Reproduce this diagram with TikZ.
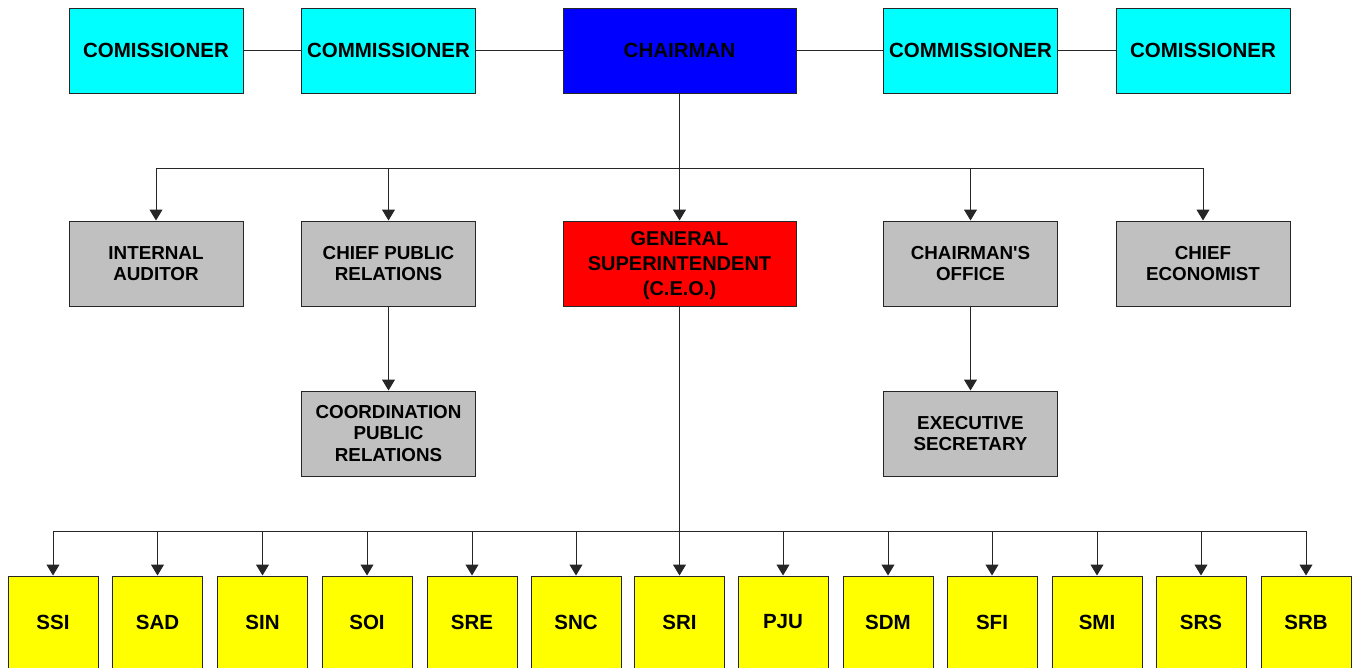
\documentclass[tikz,border=0pt]{standalone}
\usepackage{fontspec}
\setmainfont{Liberation Sans}[Ligatures=TeXOff]
\usetikzlibrary{arrows.meta}
\definecolor{boxcyan}{RGB}{0,255,255}
\definecolor{boxblue}{RGB}{0,0,255}
\definecolor{boxred}{RGB}{255,0,0}
\definecolor{boxgray}{RGB}{192,192,192}
\definecolor{boxyellow}{RGB}{255,255,0}
\begin{document}
\begin{tikzpicture}[x=1pt,y=-1pt,
  box/.style={draw=black!85, line width=1pt, inner sep=0pt, align=center,
    font=\bfseries\fontsize{20.5}{25}\selectfont, anchor=center},
  topbox/.style={box, minimum width=174pt, minimum height=85pt, fill=boxcyan},
  midbox/.style={box, minimum width=174pt, minimum height=85pt, fill=boxgray,
    font=\bfseries\fontsize{18.8}{21.5}\selectfont},
  lowbox/.style={box, minimum width=90pt, minimum height=92pt, fill=boxyellow},
  link/.style={draw=black!85, line width=1pt},
  arr/.style={link, -{Triangle[width=13pt,length=11pt]}}]
\useasboundingbox (0,0) rectangle (1358,667);

% board
\node[topbox] (c1) at (156,50.5) {COMISSIONER};
\node[topbox] (c2) at (388.5,50.5) {COMMISSIONER};
\node[topbox, fill=boxblue, minimum width=233pt] (chair) at (679.5,50.5) {CHAIRMAN};
\node[topbox] (c3) at (970.5,50.5) {COMMISSIONER};
\node[topbox] (c4) at (1203,50.5) {COMISSIONER};
\draw[link] (c1.east) -- (c2.west);
\draw[link] (c2.east) -- (chair.west);
\draw[link] (chair.east) -- (c3.west);
\draw[link] (c3.east) -- (c4.west);

% staff directly under the chairman
\node[midbox] (iaud) at (156,263.5) {INTERNAL\\AUDITOR};
\node[midbox] (cpr) at (388.5,263.5) {CHIEF PUBLIC\\RELATIONS};
\node[box, fill=boxred, minimum width=233pt, minimum height=85pt] (gs) at (679.5,263.5) {};
\node[font=\bfseries\fontsize{20}{25}\selectfont, align=center, inner sep=0pt] (gstext) at ([yshift=-2.5pt]gs.center) {GENERAL\\SUPERINTENDENT\\(C.E.O.)};
\node[midbox] (coff) at (970.5,263.5) {CHAIRMAN'S\\OFFICE};
\node[midbox] (ceco) at (1203,263.5) {CHIEF\\ECONOMIST};

\coordinate (topbus) at (679.5,168);
\draw[arr] (chair.south) -- (gs.north);
\draw[link] (iaud.north |- topbus) -- (ceco.north |- topbus);
\draw[arr] (iaud.north |- topbus) -- (iaud.north);
\draw[arr] (cpr.north |- topbus) -- (cpr.north);
\draw[arr] (coff.north |- topbus) -- (coff.north);
\draw[arr] (ceco.north |- topbus) -- (ceco.north);

% second level staff
\node[midbox] (coord) at (388.5,433.5) {COORDINATION\\PUBLIC\\RELATIONS};
\node[midbox] (exsec) at (970.5,433.5) {EXECUTIVE\\SECRETARY};
\draw[arr] (cpr.south) -- (coord.north);
\draw[arr] (coff.south) -- (exsec.north);

% superintendencies
\node[lowbox] (ssi) at (53,622) {SSI};
\node[lowbox] (sad) at (157.5,622) {SAD};
\node[lowbox] (sin) at (262.5,622) {SIN};
\node[lowbox] (soi) at (367,622) {SOI};
\node[lowbox] (sre) at (472,622) {SRE};
\node[lowbox] (snc) at (576,622) {SNC};
\node[lowbox] (sri) at (679.5,622) {SRI};
\node[lowbox] (pju) at (783,622) {PJU};
\node[lowbox] (sdm) at (888,622) {SDM};
\node[lowbox] (sfi) at (992,622) {SFI};
\node[lowbox] (smi) at (1097,622) {SMI};
\node[lowbox] (srs) at (1201,622) {SRS};
\node[lowbox] (srb) at (1306,622) {SRB};

\coordinate (lowbus) at (679.5,531);
\draw[link] (ssi.north |- lowbus) -- (srb.north |- lowbus);
\draw[arr] (gs.south) -- (sri.north);
\foreach \n in {ssi,sad,sin,soi,sre,snc,pju,sdm,sfi,smi,srs,srb}
  \draw[arr] (\n.north |- lowbus) -- (\n.north);
\end{tikzpicture}
\end{document}
